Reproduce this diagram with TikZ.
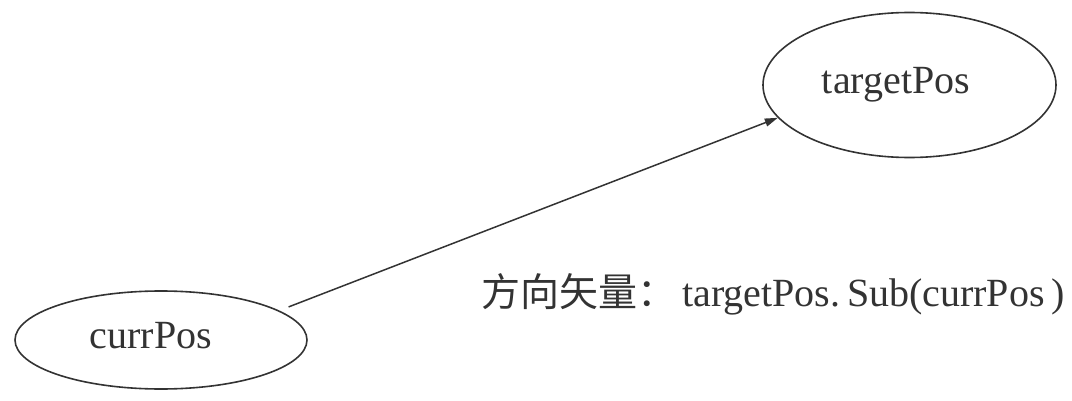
\documentclass[tikz,border=0pt]{standalone}
\usepackage{fontspec}
\setmainfont{Liberation Serif}
\newfontfamily\cjk{Noto Sans CJK SC}
\usetikzlibrary{arrows.meta,shapes.geometric}
\definecolor{ink}{HTML}{333333}
\begin{document}
\begin{tikzpicture}[x=1pt,y=1pt,
  posnode/.style={ellipse, draw=ink, line width=1.6pt, inner sep=0pt},
  postext/.style={anchor=base, inner sep=0pt, text=ink, font=\fontsize{40}{42}\selectfont},
  vecarrow/.style={draw=ink, line width=1.5pt, -{Triangle[length=13pt,width=8pt]}}]
\useasboundingbox (0,0) rectangle (1072,400);
\node[posnode, minimum width=292pt, minimum height=98pt] (currPos) at (161,60) {};
\node[postext] (currPosText) at (151,52) {currPos};
\node[posnode, minimum width=293pt, minimum height=145pt] (targetPos) at (909.5,315) {};
\node[postext] (targetPosText) at (896,307) {targetPos};
\draw[vecarrow, shorten <=10pt] (currPos.14.1) -- (targetPos.194.9);
\node[anchor=base west, inner sep=0pt, text=ink, font=\fontsize{40}{42}\selectfont] (label) at (481,94)
  {{\cjk\fontsize{39}{42}\selectfont 方向矢量：}\hspace{6pt}targetPos.\,Sub(currPos\,)};
\end{tikzpicture}
\end{document}
